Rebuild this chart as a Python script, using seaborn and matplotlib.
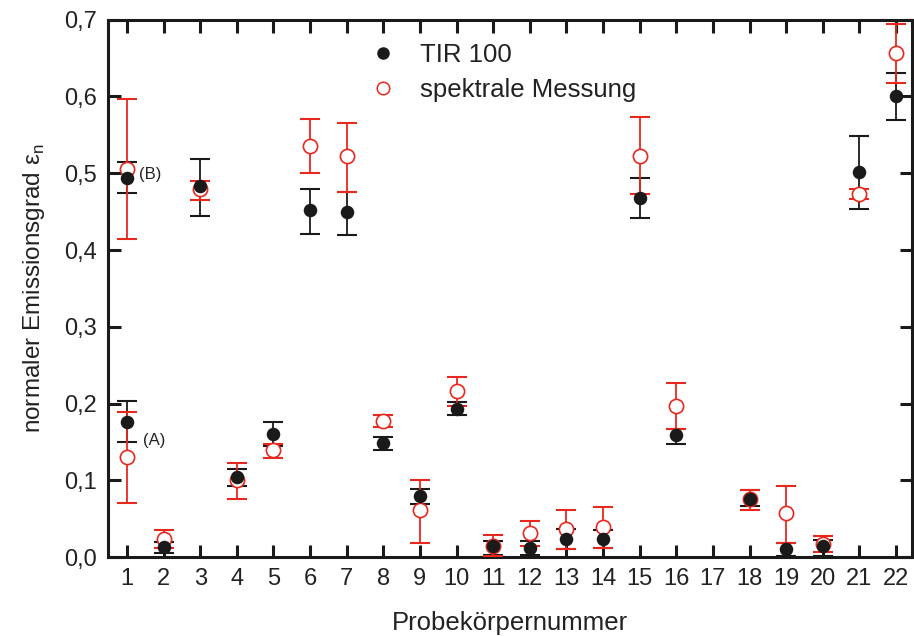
import matplotlib
matplotlib.use("Agg")
import matplotlib.pyplot as plt
import seaborn as sns
import numpy as np
from matplotlib.lines import Line2D
from matplotlib.ticker import FuncFormatter

# sample number (1 appears twice: (A) and (B)); 17 has no data
probe = [1, 1, 2, 3, 4, 5, 6, 7, 8, 9, 10, 11, 12, 13, 14, 15, 16, 18, 19, 20, 21, 22]

tir_val = [0.176, 0.494, 0.013, 0.483, 0.105, 0.160, 0.452, 0.449, 0.149, 0.080, 0.193,
           0.015, 0.012, 0.024, 0.024, 0.468, 0.159, 0.076, 0.011, 0.015, 0.501, 0.600]
tir_hi = [0.203, 0.515, 0.020, 0.519, 0.115, 0.176, 0.480, 0.476, 0.156, 0.089, 0.202,
          0.021, 0.021, 0.037, 0.035, 0.494, 0.167, 0.087, 0.019, 0.022, 0.548, 0.630]
tir_lo = [0.150, 0.474, 0.006, 0.444, 0.093, 0.145, 0.421, 0.419, 0.140, 0.069, 0.185,
          0.003, 0.003, 0.010, 0.012, 0.442, 0.147, 0.067, 0.002, 0.002, 0.454, 0.570]

spek_val = [0.130, 0.506, 0.024, 0.480, 0.100, 0.139, 0.536, 0.522, 0.177, 0.061, 0.216,
            0.015, 0.031, 0.037, 0.039, 0.523, 0.197, 0.076, 0.057, 0.017, 0.473, 0.656]
spek_hi = [0.189, 0.597, 0.035, 0.490, 0.123, 0.147, 0.571, 0.566, 0.185, 0.101, 0.235,
           0.029, 0.047, 0.062, 0.065, 0.573, 0.227, 0.087, 0.093, 0.027, 0.480, 0.694]
spek_lo = [0.070, 0.414, 0.012, 0.465, 0.076, 0.129, 0.500, 0.476, 0.169, 0.019, 0.197,
           0.002, 0.015, 0.010, 0.012, 0.473, 0.167, 0.062, 0.019, 0.007, 0.466, 0.617]

x_ticks = list(range(1, 23))
y_ticks = [0.0, 0.1, 0.2, 0.3, 0.4, 0.5, 0.6, 0.7]

BLACK = "#1a1a1a"
RED = "#e8281e"

sns.set_style("ticks")
plt.rcParams["font.family"] = ["Liberation Sans", "DejaVu Sans"]

fig = plt.figure(figsize=(9.14, 6.36), dpi=100)
ax = fig.add_axes([0.118, 0.124, 0.88, 0.845])

tv, th, tl = np.array(tir_val), np.array(tir_hi), np.array(tir_lo)
sv, sh, sl = np.array(spek_val), np.array(spek_hi), np.array(spek_lo)

ax.errorbar(probe, tv, yerr=[tv - tl, th - tv], fmt="none", ecolor=BLACK,
            elinewidth=1.3, capsize=7.5, capthick=1.5, zorder=2)
ax.errorbar(probe, sv, yerr=[sv - sl, sh - sv], fmt="none", ecolor=RED,
            elinewidth=1.3, capsize=7.5, capthick=1.5, zorder=3)
sns.scatterplot(x=probe, y=spek_val, ax=ax, marker="o", color="white",
                edgecolor=RED, linewidth=1.2, s=105, zorder=4)
sns.scatterplot(x=probe, y=tir_val, ax=ax, marker="o", color=BLACK,
                edgecolor=BLACK, linewidth=0, s=95, zorder=5)

ax.text(1.44, 0.152, "(A)", fontsize=12, va="center", ha="left", color="#222222")
ax.text(1.33, 0.499, "(B)", fontsize=12, va="center", ha="left", color="#222222")

ax.set_xlim(0.48, 22.44)
ax.set_ylim(0, 0.7)
ax.set_xticks(x_ticks)
ax.set_xticklabels([str(t) for t in x_ticks])
ax.set_yticks(y_ticks)
ax.yaxis.set_major_formatter(FuncFormatter(lambda v, p: f"{v:.1f}".replace(".", ",")))

for sp in ax.spines.values():
    sp.set_linewidth(2.2)
    sp.set_color(BLACK)
ax.tick_params(direction="in", length=9, width=2.2, color=BLACK,
               top=True, right=True, labelsize=17, labelcolor="#222222", pad=8)

ax.set_xlabel("Probekörpernummer", fontsize=18.5, color="#222222", labelpad=15)
ax.set_ylabel("normaler Emissionsgrad ε$_\\mathregular{n}$", fontsize=17.5,
              color="#222222", labelpad=12)

handles = [
    Line2D([], [], marker="o", linestyle="none", color=BLACK, markersize=8),
    Line2D([], [], marker="o", linestyle="none", markerfacecolor="white",
           markeredgecolor=RED, markeredgewidth=1.1, markersize=9),
]
ax.legend(handles, ["TIR 100", "spektrale Messung"], loc="upper left",
          bbox_to_anchor=(0.326, 0.957), frameon=False, fontsize=18.5,
          handlelength=1.0, handletextpad=0.95, borderpad=0, borderaxespad=0,
          labelspacing=0.42, labelcolor="#222222")

fig.savefig("out.png", dpi=100)
